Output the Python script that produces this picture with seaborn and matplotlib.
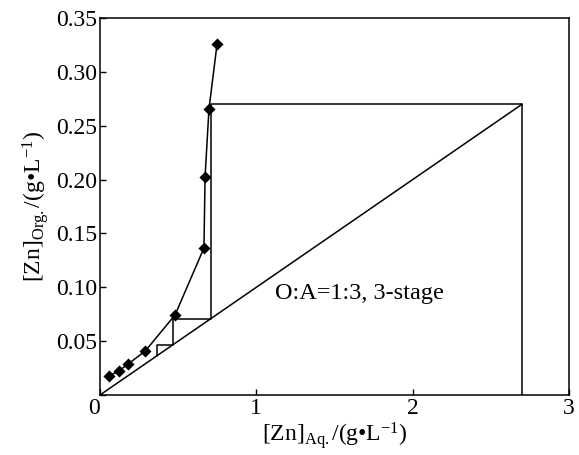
import matplotlib
matplotlib.use("Agg")
import matplotlib.pyplot as plt
import seaborn as sns
import pandas as pd

# Equilibrium data (diamonds)
aq_conc = [0.058, 0.12, 0.18, 0.29, 0.48, 0.665, 0.672, 0.697, 0.749]
org_conc = [0.0176, 0.0223, 0.0288, 0.0409, 0.0743, 0.1365, 0.2024, 0.2655, 0.326]

# Operating line
op_x = [0.0, 2.7]
op_y = [0.0, 0.27]

# McCabe-Thiele staircase
stair_x = [2.7, 2.7, 0.708, 0.708, 0.467, 0.467, 0.365, 0.365]
stair_y = [0.0, 0.27, 0.27, 0.0708, 0.0708, 0.0467, 0.0467, 0.0365]

x_ticks = [0, 1, 2, 3]
x_ticklabels = ["0", "1", "2", "3"]
y_ticks = [0, 0.05, 0.10, 0.15, 0.20, 0.25, 0.30, 0.35]
# origin "0" is shared with the x axis
y_ticklabels = ["", "0.05", "0.10", "0.15", "0.20", "0.25", "0.30", "0.35"]

sns.set_theme(style="ticks")
plt.rcParams["font.family"] = ["Liberation Serif", "DejaVu Serif"]
plt.rcParams["mathtext.fontset"] = "custom"
plt.rcParams["mathtext.rm"] = "Liberation Serif"
plt.rcParams["mathtext.it"] = "Liberation Serif:italic"

fig = plt.figure(figsize=(5.79, 4.55), dpi=100)
ax = fig.add_axes([100 / 579, 1 - 395 / 455, 469 / 579, 377 / 455])

eq = pd.DataFrame({"x": aq_conc, "y": org_conc})
sns.lineplot(data=eq, x="x", y="y", ax=ax, color="black", linewidth=1.1,
             sort=False, estimator=None)
sns.scatterplot(data=eq, x="x", y="y", ax=ax, color="black", marker="D",
                s=38, edgecolor="black", linewidth=0, zorder=5)

op = pd.DataFrame({"x": op_x, "y": op_y})
sns.lineplot(data=op, x="x", y="y", ax=ax, color="black", linewidth=1.1,
             sort=False, estimator=None)
st = pd.DataFrame({"x": stair_x, "y": stair_y})
sns.lineplot(data=st, x="x", y="y", ax=ax, color="black", linewidth=1.1,
             sort=False, estimator=None)

ax.text(1.12, 0.094, "O:A=1:3, 3-stage", fontsize=17.5, color="black",
        ha="left", va="center")

ax.set_xlim(0, 3)
ax.set_ylim(0, 0.35)
ax.set_xticks(x_ticks)
ax.set_xticklabels(x_ticklabels)
ax.set_yticks(y_ticks)
ax.set_yticklabels(y_ticklabels)
ax.tick_params(direction="in", length=4, width=1, labelsize=17,
               colors="black", pad=2)
ax.get_xticklabels()[0].set_horizontalalignment("right")
for s in ax.spines.values():
    s.set_visible(True)
    s.set_color("black")
    s.set_linewidth(1.1)

ax.set_xlabel("[Zn]$_{\\mathrm{Aq.}}$/(g\u2022L$^{-1}$)", fontsize=17,
              color="black", labelpad=1)
ax.set_ylabel("[Zn]$_{\\mathrm{Org.}}$/(g\u2022L$^{-1}$)", fontsize=17,
              color="black", labelpad=4)

fig.savefig("out.png", dpi=100)
